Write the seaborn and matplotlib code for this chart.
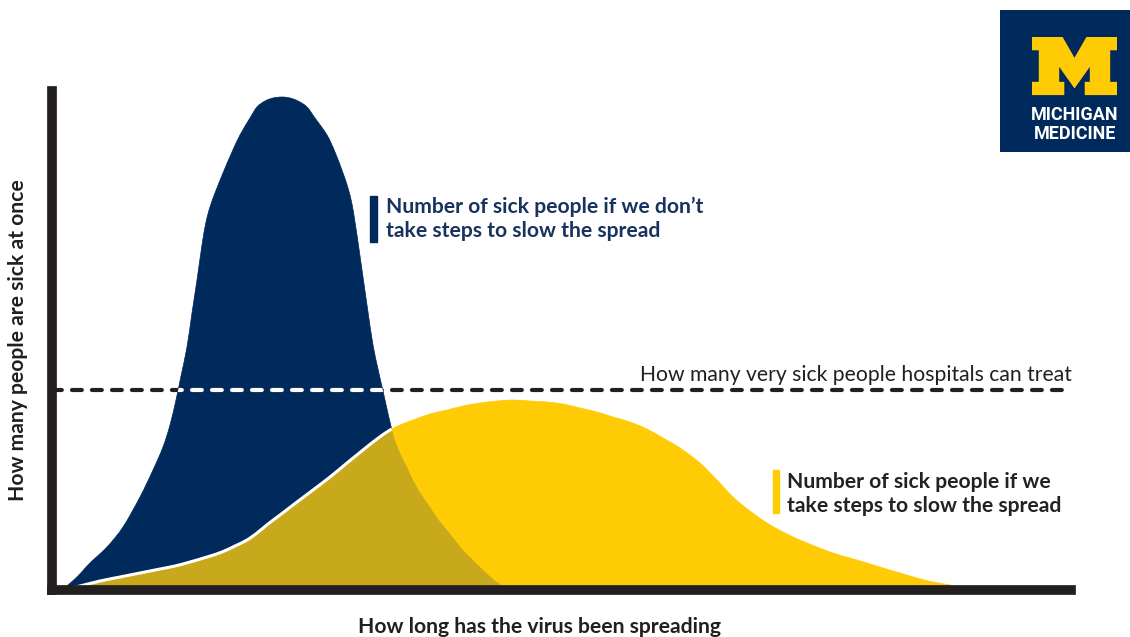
import numpy as np
import matplotlib.pyplot as plt
import seaborn as sns
from matplotlib.patches import Polygon, Rectangle, PathPatch
from matplotlib.path import Path

# days since the virus started spreading vs. people sick at the same time
no_action_day = [1.0, 2.4, 3.8, 5.5, 7.1, 8.8, 10.1, 11.1, 11.8, 12.4, 12.9, 13.5, 14.0, 14.5,
                 15.0, 15.4, 15.8, 16.3, 17.1, 18.0, 18.8, 19.8, 20.5, 21.3, 22.1, 23.0, 23.8,
                 24.6, 25.5, 26.3, 27.5, 28.3, 29.1, 29.6, 30.0, 30.3, 30.6, 31.1, 31.6, 32.1,
                 32.6, 33.1, 33.5, 33.8, 34.2, 34.8, 35.5, 36.1, 36.9, 37.8, 38.6, 39.5, 40.3,
                 41.1, 42.0, 42.8, 44.1, 45.1, 46.0]
no_action_sick = [0.0, 2.4, 5.4, 8.6, 12.6, 18.6, 24.0, 28.6, 33.0, 38.0, 42.8, 48.6, 55.4, 62.0,
                  69.0, 73.6, 76.6, 79.4, 83.4, 87.6, 91.0, 94.4, 96.6, 97.8, 98.4, 98.6, 98.4,
                  97.8, 96.6, 94.4, 91.0, 87.6, 83.4, 80.4, 77.2, 73.6, 69.6, 62.6, 55.6, 49.0,
                  44.2, 39.8, 36.2, 33.6, 30.6, 27.4, 24.6, 22.0, 19.2, 16.6, 14.2, 12.0, 10.0,
                  8.0, 6.2, 4.6, 2.2, 0.8, 0.0]

action_day = [1.0, 2.8, 4.8, 6.8, 8.8, 10.8, 12.3, 13.8, 15.5, 17.0, 18.3, 19.5, 20.5, 21.6,
              22.8, 24.5, 26.1, 27.8, 29.5, 31.1, 32.5, 33.8, 34.8, 36.1, 37.8, 39.5, 41.1,
              42.8, 44.5, 46.1, 47.8, 49.5, 51.1, 52.8, 54.5, 56.1, 57.8, 59.5, 61.1, 62.8,
              64.8, 66.5, 68.1, 69.8, 71.5, 73.1, 74.8, 76.5, 78.1, 79.8, 81.5, 83.1, 84.8,
              86.5, 88.1, 89.8, 91.3, 92.8]
action_sick = [0.0, 0.8, 1.8, 2.6, 3.4, 4.2, 4.8, 5.6, 6.6, 7.6, 8.8, 10.0, 11.4, 13.2,
               15.0, 17.6, 20.0, 22.6, 25.4, 28.0, 30.2, 32.0, 33.0, 34.0, 35.2, 36.0, 36.8,
               37.4, 37.8, 38.0, 37.8, 37.6, 37.2, 36.4, 35.6, 34.6, 33.6, 32.2, 30.4, 28.4,
               25.4, 22.0, 18.6, 15.8, 13.4, 11.6, 10.0, 8.6, 7.4, 6.4, 5.4, 4.4, 3.4,
               2.4, 1.6, 1.0, 0.4, 0.0]

hospital_capacity = 40.0

NAVY = '#00295C'
YELLOW = '#FFCB05'
OLIVE = '#C9A91C'
INK = '#231F20'

sns.set_theme(style='white')
plt.rcParams['font.family'] = ['Lato', 'DejaVu Sans']

W, H = 1130, 637


def fx(px):
    return px / W


def fy(py):
    return 1 - py / H


def curve_path(xs, ys, closed=True):
    # smooth Bezier path passing through the read points (Catmull-Rom handles)
    pts = np.column_stack([xs, ys])
    n = len(pts)
    verts = [pts[0]]
    codes = [Path.MOVETO]
    for i in range(n - 1):
        p0 = pts[max(i - 1, 0)]
        p1 = pts[i]
        p2 = pts[i + 1]
        p3 = pts[min(i + 2, n - 1)]
        verts += [p1 + (p2 - p0) / 6, p2 - (p3 - p1) / 6, p2]
        codes += [Path.CURVE4] * 3
    if closed:
        verts += [pts[0], pts[0]]
        codes += [Path.LINETO, Path.CLOSEPOLY]
    return Path(np.array(verts), codes)


fig = plt.figure(figsize=(W / 100, H / 100), dpi=100)
ax = fig.add_axes([fx(52), fy(590), (1071 - 52) / W, (590 - 91) / H])
ax.set_xlim(0, 101.9)
ax.set_ylim(0, 99.8)
ax.set_xticks([])
ax.set_yticks([])
sns.despine(ax=ax)
for side in ['left', 'bottom']:
    ax.spines[side].set_color(INK)
    ax.spines[side].set_linewidth(7)
    ax.spines[side].set_zorder(10)

blue = PathPatch(curve_path(no_action_day, no_action_sick), fc=NAVY, ec=NAVY, lw=0.5, zorder=1)
ax.add_patch(blue)
yellow = PathPatch(curve_path(action_day, action_sick), fc=YELLOW, ec=YELLOW, lw=0.5, zorder=2)
ax.add_patch(yellow)
overlap = PathPatch(curve_path(no_action_day, no_action_sick), fc=OLIVE, ec='none', zorder=3)
ax.add_patch(overlap)
overlap.set_clip_path(yellow)

# white edge of the flattened curve where it sits in front of the tall one
edge = PathPatch(curve_path(action_day, action_sick, closed=False), fill=False, ec='white',
                 lw=2.2, zorder=4)
ax.add_patch(edge)
edge.set_clip_path(blue)

dash = dict(lw=3, dashes=(2.35, 2.45), dash_capstyle='round')
ax.axhline(hospital_capacity, color=INK, zorder=5, **dash)
white_dash = ax.axhline(hospital_capacity, color='white', zorder=6, **dash)
white_dash.set_clip_path(blue)

# annotations
FS = 15.2
fig.text(fx(1072), fy(381), 'How many very sick people hospitals can treat', ha='right',
         va='baseline', fontsize=FS, color=INK)

fig.patches.append(Rectangle((fx(370), fy(242)), 7 / W, 46 / H, transform=fig.transFigure,
                             color=NAVY))
fig.text(fx(386), fy(213), 'Number of sick people if we don\u2019t', va='baseline',
         fontsize=FS, fontweight='bold', color='#17335E')
fig.text(fx(386), fy(237), 'take steps to slow the spread', va='baseline',
         fontsize=FS, fontweight='bold', color='#17335E')

fig.patches.append(Rectangle((fx(773), fy(513)), 6 / W, 43 / H, transform=fig.transFigure,
                             color=YELLOW))
fig.text(fx(787), fy(488), 'Number of sick people if we', va='baseline',
         fontsize=FS, fontweight='bold', color='#222222')
fig.text(fx(787), fy(512), 'take steps to slow the spread', va='baseline',
         fontsize=FS, fontweight='bold', color='#222222')

fig.text(fx(18), fy(340), 'How many people are sick at once', rotation=90, ha='center',
         va='center', fontsize=FS, fontweight='bold', color=INK)
fig.text(fx(539), fy(627), 'How long has the virus been spreading', ha='center',
         va='center', fontsize=FS, fontweight='bold', color=INK)

# logo
logo = fig.add_axes([fx(1000), fy(152), 130 / W, 142 / H])
logo.set_facecolor(NAVY)
logo.set_xlim(0, 130)
logo.set_ylim(142, 0)
logo.set_xticks([])
logo.set_yticks([])
for s in logo.spines.values():
    s.set_visible(False)
m_shape = np.array([(0, 0), (36, 0), (50, 25), (64, 0), (100, 0), (100, 16), (92, 16), (92, 54),
                    (100, 54), (100, 70), (62, 70), (62, 54), (68, 54), (68, 36), (50, 62),
                    (32, 36), (32, 54), (38, 54), (38, 70), (0, 70), (0, 54), (8, 54), (8, 16),
                    (0, 16)], dtype=float)
m_shape[:, 0] = 32 + m_shape[:, 0] * 0.85
m_shape[:, 1] = 27 + m_shape[:, 1] * 0.83
logo.add_patch(Polygon(m_shape, closed=True, fc=YELLOW, ec='none'))
logo.text(75, 105, 'MICHIGAN', ha='center', va='center', fontsize=13, fontweight='bold',
          color='white', family=['Roboto', 'DejaVu Sans'])
logo.text(75, 124, 'MEDICINE', ha='center', va='center', fontsize=13, fontweight='bold',
          color='white', family=['Roboto', 'DejaVu Sans'])

fig.savefig('out.png', dpi=100, facecolor='white')
